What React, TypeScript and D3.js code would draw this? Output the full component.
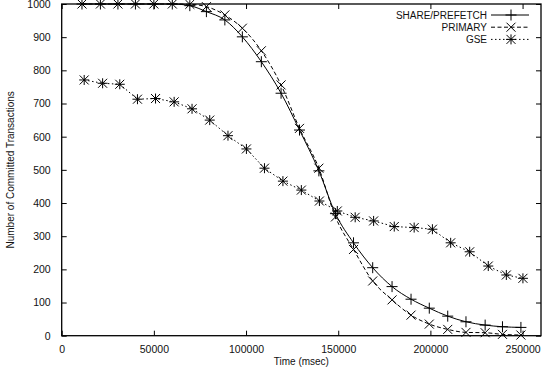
import React, { useEffect, useRef } from 'react';
import * as d3 from 'd3';

// times for SHARE/PREFETCH and PRIMARY (msec)
const spTimes = [11000, 21000, 30500, 40000, 50000, 60000, 69500, 78500, 88500, 98000, 108300, 119000, 129000, 139500, 148500, 158300, 168700, 179200, 189500, 199400, 209400, 219300, 229700, 239100, 249100];
const shareValues = [1000, 1000, 1000, 1000, 1000, 1000, 995, 977, 952, 901, 826, 731, 620, 497, 368, 280, 205, 148, 110, 83, 59, 42, 32, 27, 25];
const primaryValues = [1000, 1000, 1000, 1000, 1000, 1000, 999, 992, 967, 927, 859, 756, 625, 505, 358, 260, 165, 108, 62, 35, 19, 10, 9, 4, 2];

// GSE sampled slightly later
const gseTimes = [12200, 22200, 31500, 41100, 50900, 61000, 70700, 80300, 90200, 100200, 110000, 120000, 130000, 139800, 149500, 159200, 169200, 180400, 191200, 201100, 211000, 221300, 231400, 241200, 250200];
const gseValues = [771, 761, 758, 713, 715, 705, 684, 650, 603, 563, 505, 466, 439, 406, 376, 357, 346, 329, 326, 321, 280, 253, 210, 183, 173];

const xTicks = [0, 50000, 100000, 150000, 200000, 250000];
const yTicks = [0, 100, 200, 300, 400, 500, 600, 700, 800, 900, 1000];

const seriesNames = ['SHARE/PREFETCH', 'PRIMARY', 'GSE'];

type Pt = [number, number];

export default function App() {
  const svgRef = useRef<SVGSVGElement>(null);

  useEffect(() => {
    const svg = d3.select(svgRef.current);
    svg.selectAll('*').remove();

    const width = 542;
    const height = 373;
    const left = 61.7, right = 541, top = 4, bottom = 335.7;
    const font = '"Liberation Sans", Arial, Helvetica, sans-serif';

    const x = d3.scaleLinear().domain([0, 260000]).range([left, right]);
    const y = d3.scaleLinear().domain([0, 1000]).range([bottom, top]);

    svg.attr('width', width).attr('height', height);
    svg.append('rect').attr('width', width).attr('height', height).attr('fill', '#fff');

    const styleAxis = (g: any) => {
      g.select('.domain').remove();
      g.selectAll('line').attr('stroke', '#000').attr('stroke-width', 1);
      g.selectAll('text').attr('font-family', font).attr('font-size', '10.5px').attr('fill', '#111');
    };

    // left axis, ticks pointing in
    svg.append('g')
      .attr('transform', `translate(${left},0)`)
      .call(d3.axisLeft(y).tickValues(yTicks).tickSizeInner(-5).tickSizeOuter(0).tickPadding(11).tickFormat(d3.format('d')))
      .call(styleAxis);
    // right mirror ticks
    svg.append('g')
      .attr('transform', `translate(${right},0)`)
      .call(d3.axisRight(y).tickValues(yTicks).tickSizeInner(-5).tickSizeOuter(0).tickFormat(() => ''))
      .call(styleAxis);
    // bottom axis
    svg.append('g')
      .attr('transform', `translate(0,${bottom})`)
      .call(d3.axisBottom(x).tickValues(xTicks).tickSizeInner(-5).tickSizeOuter(0).tickPadding(10).tickFormat(d3.format('d')))
      .call(styleAxis);
    // top mirror ticks
    svg.append('g')
      .attr('transform', `translate(0,${top})`)
      .call(d3.axisTop(x).tickValues(xTicks).tickSizeInner(-5).tickSizeOuter(0).tickFormat(() => ''))
      .call(styleAxis);

    // frame
    svg.append('rect')
      .attr('x', left).attr('y', top)
      .attr('width', right - left).attr('height', bottom - top)
      .attr('fill', 'none').attr('stroke', '#000').attr('stroke-width', 1.3);

    // axis titles
    svg.append('text')
      .attr('x', (left + right) / 2).attr('y', 365)
      .attr('text-anchor', 'middle')
      .attr('font-family', font).attr('font-size', '10px').attr('fill', '#111')
      .text('Time (msec)');
    svg.append('text')
      .attr('transform', `translate(14,${(top + bottom) / 2}) rotate(-90)`)
      .attr('text-anchor', 'middle')
      .attr('font-family', font).attr('font-size', '10px').attr('fill', '#111')
      .text('Number of Committed Transactions');

    const plot = svg.append('g');

    const plus = (s: number) => `M${-s},0H${s}M0,${-s}V${s}`;
    const cross = (s: number) => `M${-s},${-s}L${s},${s}M${-s},${s}L${s},${-s}`;
    const star = (s: number) => plus(s + 0.5) + cross(s);
    const markers = [plus(5.5), cross(4.5), star(4.5)];
    const dashes = [null, '4,2.5', '1.5,2.5'];
    const curves = [d3.curveMonotoneX, d3.curveMonotoneX, d3.curveLinear];

    const series: Pt[][] = [
      spTimes.map((t, i) => [t, shareValues[i]] as Pt),
      spTimes.map((t, i) => [t, primaryValues[i]] as Pt),
      gseTimes.map((t, i) => [t, gseValues[i]] as Pt),
    ];

    series.forEach((pts, k) => {
      const line = d3.line<Pt>()
        .x(d => x(d[0]))
        .y(d => y(d[1]))
        .curve(curves[k]);
      plot.append('path')
        .attr('d', line(pts))
        .attr('fill', 'none')
        .attr('stroke', '#000')
        .attr('stroke-width', 1)
        .attr('stroke-dasharray', dashes[k]);
      plot.selectAll(null)
        .data(pts)
        .enter()
        .append('path')
        .attr('transform', d => `translate(${x(d[0])},${y(d[1])})`)
        .attr('d', markers[k])
        .attr('fill', 'none')
        .attr('stroke', '#000')
        .attr('stroke-width', 1);
    });

    // legend
    const legend = svg.append('g');
    seriesNames.forEach((name, k) => {
      const ly = 15 + k * 12.2;
      legend.append('text')
        .attr('x', 487).attr('y', ly).attr('dy', '0.35em')
        .attr('text-anchor', 'end')
        .attr('font-family', font).attr('font-size', '10px').attr('fill', '#111')
        .text(name);
      legend.append('line')
        .attr('x1', 491).attr('x2', 529).attr('y1', ly).attr('y2', ly)
        .attr('stroke', '#000').attr('stroke-width', 1)
        .attr('stroke-dasharray', dashes[k]);
      legend.append('path')
        .attr('transform', `translate(511,${ly})`)
        .attr('d', markers[k])
        .attr('fill', 'none').attr('stroke', '#000').attr('stroke-width', 1);
    });
  }, []);

  return (
    <svg ref={svgRef} style={{ position: 'absolute', left: 0, top: 0, display: 'block' }} />
  );
}
